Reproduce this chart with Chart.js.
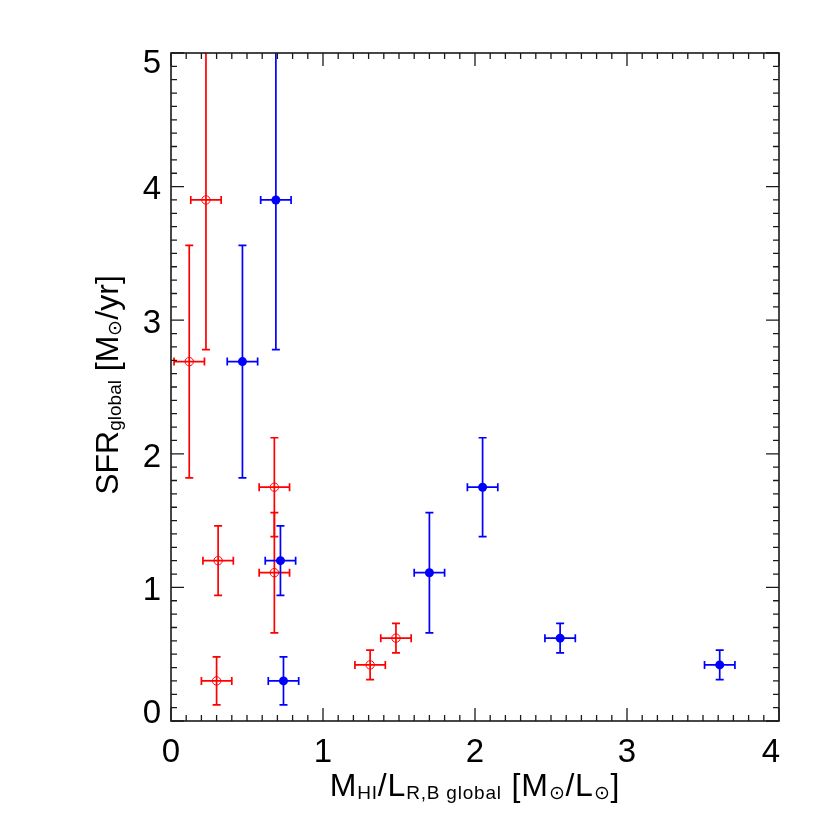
<!DOCTYPE html>
<html>
<head>
<meta charset="utf-8">
<script src="https://cdn.jsdelivr.net/npm/chart.js@4"></script>
<style>
  html, body { margin: 0; padding: 0; background: #fff; }
  #wrap { width: 830px; height: 830px; }
</style>
</head>
<body>
<div id="wrap"><canvas id="chart" width="830" height="830"></canvas></div>
<script>
// SFR (y) shared by both samples, with its error
const sfr    = [0.30, 1.20, 1.75, 1.11, 3.90, 2.69, 0.42, 0.62];
const sfrErr = [0.18, 0.26, 0.37, 0.45, 1.12, 0.87, 0.11, 0.11];

// M_HI / L, R band (red, open) and B band (blue, filled)
const mlR    = [0.30, 0.31, 0.68, 0.68, 0.23, 0.12, 1.31, 1.48];
const mlRErr = [0.10, 0.10, 0.10, 0.10, 0.10, 0.10, 0.10, 0.10];
const mlB    = [0.74, 0.72, 2.05, 1.70, 0.69, 0.47, 3.61, 2.56];
const mlBErr = [0.10, 0.10, 0.10, 0.10, 0.10, 0.10, 0.10, 0.10];

const xTicks = [0, 1, 2, 3, 4];
const yTicks = [0, 1, 2, 3, 4, 5];

const RED = 'rgb(255,0,0)';
const BLUE = 'rgb(0,0,255)';
const FONT = '"Liberation Sans", Arial, Helvetica, sans-serif';

function toPoints(xs, ys) {
    return xs.map((x, i) => ({ x: x, y: ys[i] }));
}

// draw text made of normal and subscript pieces, centred on cx
function richText(ctx, parts, cx, baseY, big, small, spacing) {
    ctx.letterSpacing = (spacing || 0) + 'px';
    let total = 0;
    parts.forEach(p => {
        ctx.font = (p.sub ? small : big) + 'px ' + FONT;
        p.w = ctx.measureText(p.t).width;
        total += p.w;
    });
    let x = cx - total / 2;
    ctx.textAlign = 'left';
    ctx.textBaseline = 'alphabetic';
    parts.forEach(p => {
        ctx.font = (p.sub ? small : big) + 'px ' + FONT;
        ctx.fillText(p.t, x, baseY + (p.sub ? 3 : 0));
        x += p.w;
    });
    ctx.letterSpacing = '0px';
}

const errorBars = {
    id: 'errorBars',
    beforeDatasetsDraw(chart) {
        const ctx = chart.ctx;
        const xs = chart.scales.x, ys = chart.scales.y;
        const a = chart.chartArea;
        const cap = 4;
        ctx.save();
        ctx.beginPath();
        ctx.rect(a.left, a.top, a.right - a.left, a.bottom - a.top);
        ctx.clip();
        ctx.lineWidth = 1.7;
        [[mlR, mlRErr, RED], [mlB, mlBErr, BLUE]].forEach(([mx, mxe, col]) => {
            ctx.strokeStyle = col;
            mx.forEach((xv, i) => {
                const px = xs.getPixelForValue(xv);
                const py = ys.getPixelForValue(sfr[i]);
                const x0 = xs.getPixelForValue(xv - mxe[i]);
                const x1 = xs.getPixelForValue(xv + mxe[i]);
                const y0 = ys.getPixelForValue(sfr[i] - sfrErr[i]);
                const y1 = ys.getPixelForValue(sfr[i] + sfrErr[i]);
                ctx.beginPath();
                ctx.moveTo(x0, py); ctx.lineTo(x1, py);
                ctx.moveTo(x0, py - cap); ctx.lineTo(x0, py + cap);
                ctx.moveTo(x1, py - cap); ctx.lineTo(x1, py + cap);
                ctx.moveTo(px, y0); ctx.lineTo(px, y1);
                ctx.moveTo(px - cap, y0); ctx.lineTo(px + cap, y0);
                ctx.moveTo(px - cap, y1); ctx.lineTo(px + cap, y1);
                ctx.stroke();
            });
        });
        ctx.restore();
    }
};

const frame = {
    id: 'frame',
    afterDraw(chart) {
        const ctx = chart.ctx;
        const xs = chart.scales.x, ys = chart.scales.y;
        const a = chart.chartArea;
        ctx.save();
        ctx.strokeStyle = '#1a1a1a';
        ctx.lineWidth = 1.6;
        ctx.strokeRect(a.left, a.top, a.right - a.left, a.bottom - a.top);

        // inward ticks on all four sides, minor every 0.1
        ctx.lineWidth = 1.3;
        ctx.beginPath();
        for (let k = 0; k <= 40; k++) {
            const v = k / 10;
            const len = k % 10 === 0 ? 13 : 6;
            const px = xs.getPixelForValue(v);
            ctx.moveTo(px, a.bottom); ctx.lineTo(px, a.bottom - len);
            ctx.moveTo(px, a.top); ctx.lineTo(px, a.top + len);
        }
        for (let k = 0; k <= 50; k++) {
            const v = k / 10;
            const len = k % 10 === 0 ? 13 : 6;
            const py = ys.getPixelForValue(v);
            ctx.moveTo(a.left, py); ctx.lineTo(a.left + len, py);
            ctx.moveTo(a.right, py); ctx.lineTo(a.right - len, py);
        }
        ctx.stroke();

        // tick labels
        const fs = 33;
        ctx.fillStyle = '#000';
        ctx.font = fs + 'px ' + FONT;
        ctx.textBaseline = 'alphabetic';
        ctx.textAlign = 'center';
        xTicks.forEach(v => {
            let px = xs.getPixelForValue(v);
            px = Math.min(px, a.right - 8);
            ctx.fillText(String(v), px, 750 + fs * 0.358);
        });
        ctx.textAlign = 'right';
        yTicks.forEach(v => {
            let py = ys.getPixelForValue(v) + 1;
            py = Math.max(a.top + 8.5, Math.min(a.bottom - 10, py));
            ctx.fillText(String(v), 161, py + fs * 0.358);
        });

        // axis titles
        const sun = '\u2299';
        richText(ctx, [
            { t: 'M' }, { t: 'HI', sub: true }, { t: '/L' },
            { t: 'R,B global', sub: true }, { t: ' [M' }, { t: sun, sub: true },
            { t: '/L' }, { t: sun, sub: true }, { t: ']' }
        ], (a.left + a.right) / 2, 796, 32, 19, 0.8);

        ctx.save();
        ctx.translate(118, 385);
        ctx.rotate(-Math.PI / 2);
        richText(ctx, [
            { t: 'SFR' }, { t: 'global', sub: true }, { t: ' [M' },
            { t: sun, sub: true }, { t: '/yr]' }
        ], 0, 0, 32, 19, 0);
        ctx.restore();
        ctx.restore();
    }
};

new Chart(document.getElementById('chart'), {
    type: 'scatter',
    data: {
        datasets: [{
            label: 'R',
            data: toPoints(mlR, sfr),
            pointStyle: 'circle',
            pointRadius: 4.2,
            pointBorderWidth: 1,
            borderColor: RED,
            backgroundColor: 'rgba(0,0,0,0)'
        }, {
            label: 'B',
            data: toPoints(mlB, sfr),
            pointStyle: 'circle',
            pointRadius: 4.5,
            pointBorderWidth: 0,
            borderColor: BLUE,
            backgroundColor: BLUE
        }]
    },
    options: {
        responsive: false,
        animation: false,
        layout: {
            padding: { left: 171, top: 53, right: 51, bottom: 109 }
        },
        plugins: {
            legend: { display: false },
            tooltip: { enabled: false }
        },
        scales: {
            x: { type: 'linear', min: 0, max: 4, display: false },
            y: { type: 'linear', min: 0, max: 5, display: false }
        }
    },
    plugins: [errorBars, frame]
});
</script>
</body>
</html>
